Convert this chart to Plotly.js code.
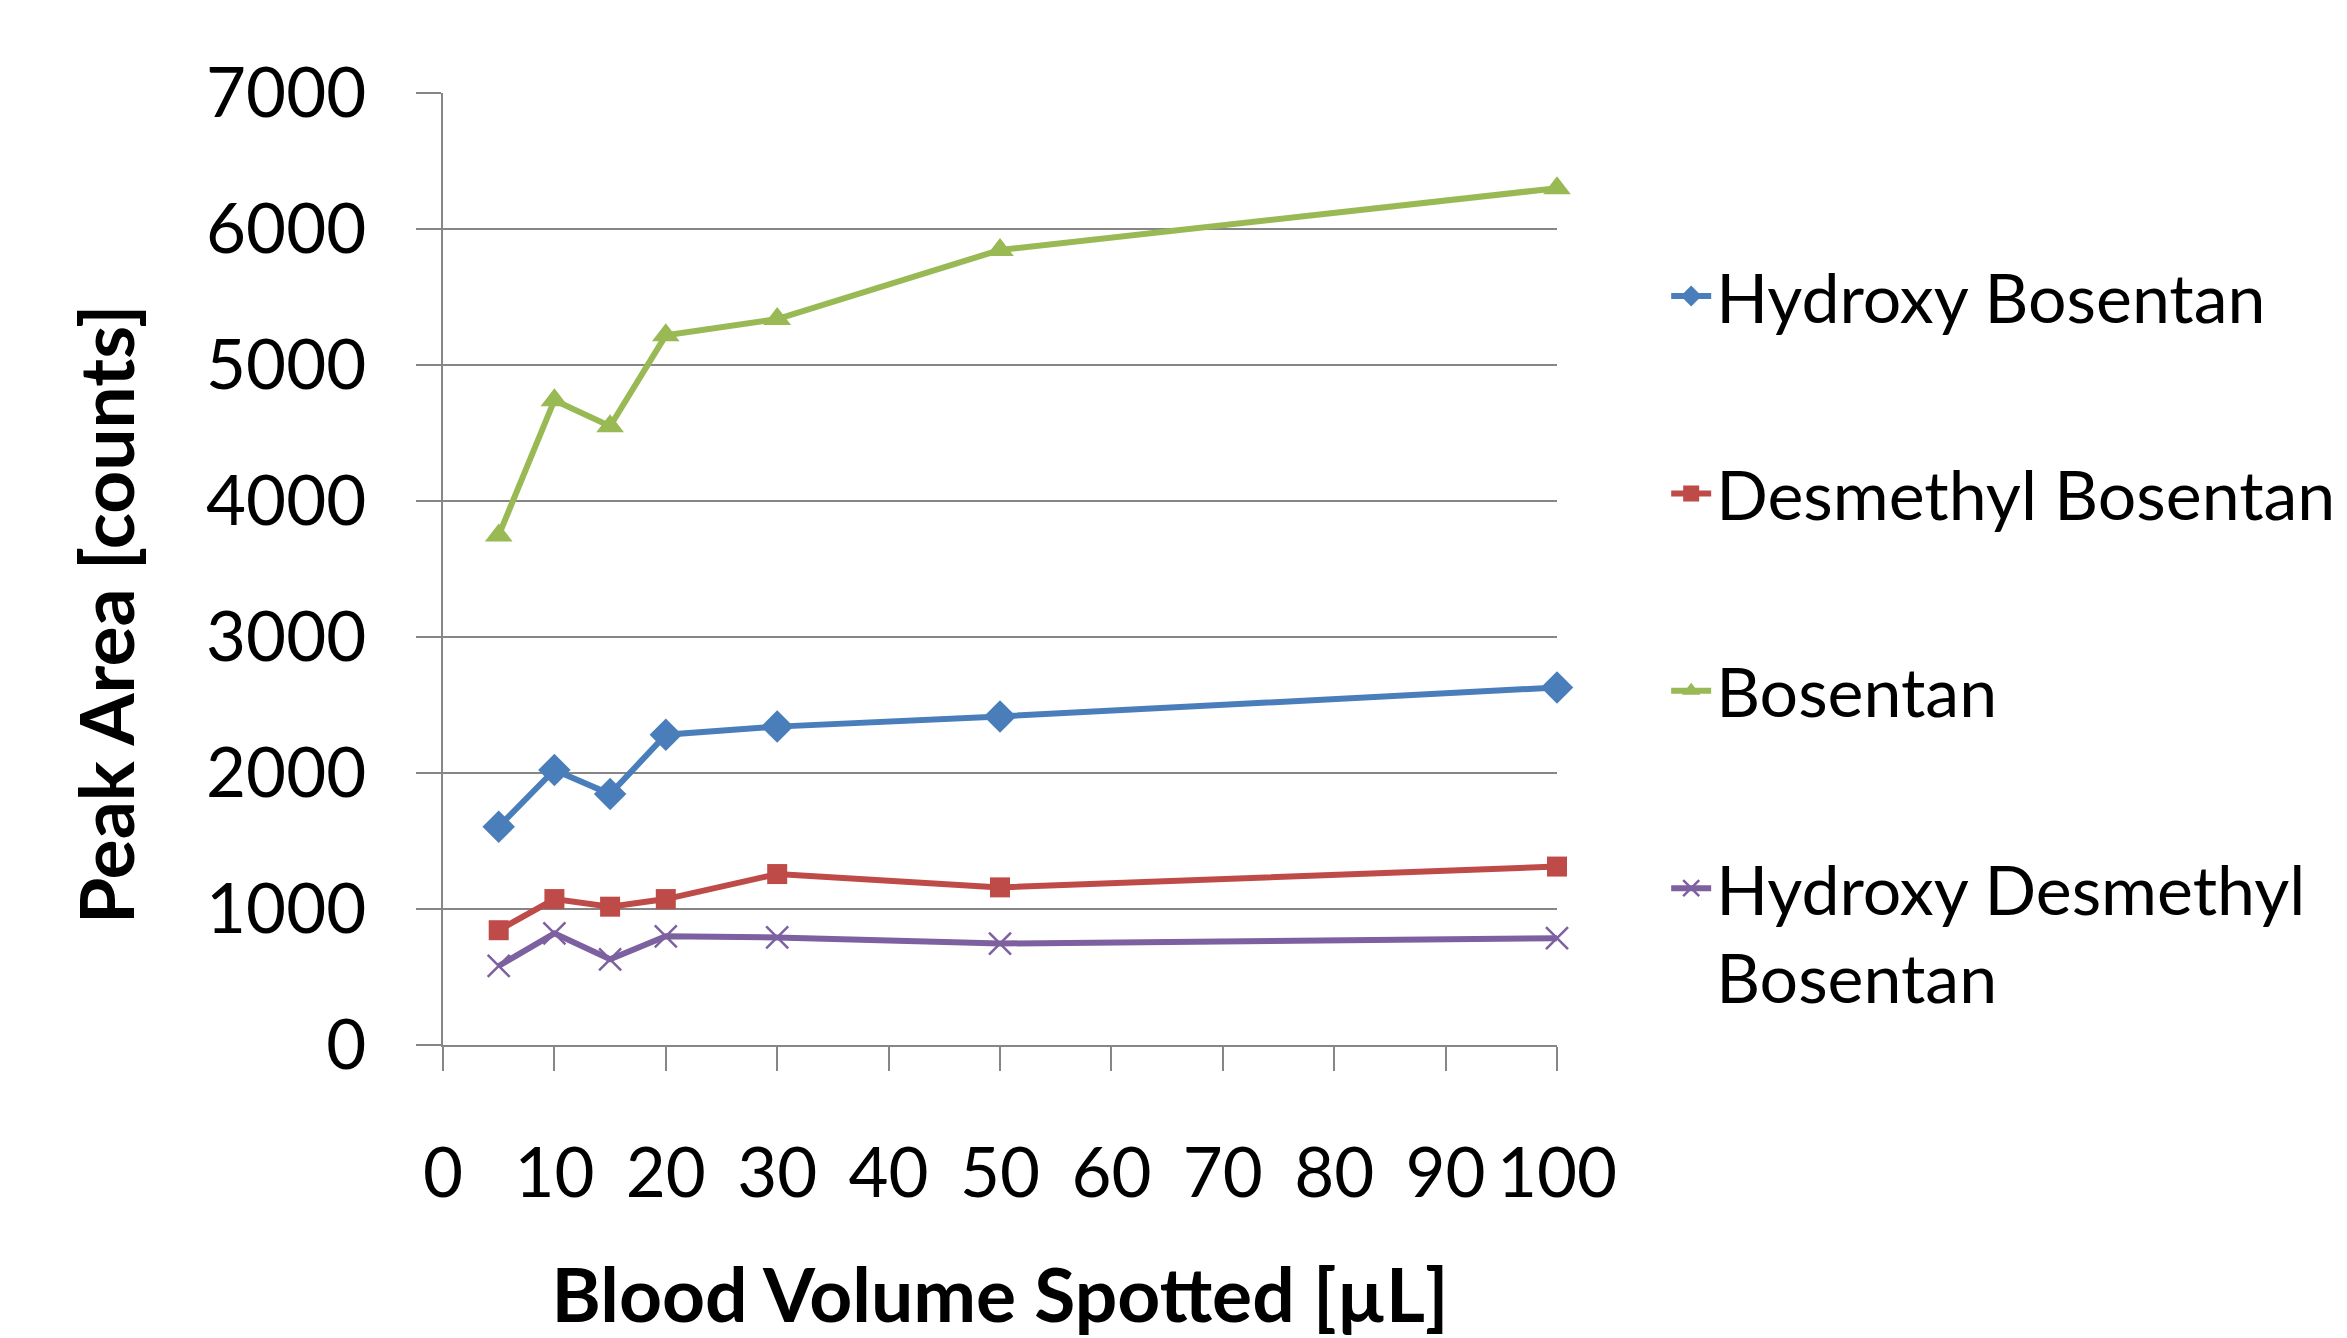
<!DOCTYPE html>
<html>
<head>
<meta charset="utf-8">
<script src="https://cdn.plot.ly/plotly-3.0.1.min.js"></script>
<style>html,body{margin:0;padding:0;background:#fff;}#chart{width:2347px;height:1338px;}</style>
</head>
<body>
<div id="chart"></div>
<script>
const bloodVolume = [5, 10, 15, 20, 30, 50, 100];
const hydroxyBosentan = [1605, 2022, 1845, 2281, 2341, 2416, 2629];
const desmethylBosentan = [844, 1073, 1017, 1073, 1257, 1159, 1312];
const bosentan = [3747, 4741, 4550, 5218, 5338, 5846, 6300];
const hydroxyDesmethylBosentan = [581, 821, 630, 799, 791, 746, 785];
const seriesNames = ["Hydroxy Bosentan", "Desmethyl Bosentan", "Bosentan", "Hydroxy Desmethyl<br>Bosentan"];
const xTickValues = [0, 10, 20, 30, 40, 50, 60, 70, 80, 90, 100];
const yTickValues = [0, 1000, 2000, 3000, 4000, 5000, 6000, 7000];
const xTitle = "Blood Volume Spotted [µL]";
const yTitle = "Peak Area [counts]";

const FONT = "Lato, 'Open Sans', sans-serif";
const AXIS_GRAY = "#868686";

function mk(name, y, color, symbol, size, group, lw) {
  return {
    type: "scatter", mode: "lines+markers", name: name,
    x: bloodVolume, y: y, legendgroup: group, cliponaxis: false,
    line: {color: color, width: 6},
    marker: {color: color, symbol: symbol, size: size, line: {width: lw || 0, color: color}}
  };
}

const traces = [
  mk(seriesNames[0], hydroxyBosentan, "#4A7EBB", "diamond", 25, "g1"),
  mk(seriesNames[1], desmethylBosentan, "#BE4B48", "square", 20, "g2"),
  mk(seriesNames[2], bosentan, "#98B954", "triangle-up", 24, "g3"),
  mk(seriesNames[3], hydroxyDesmethylBosentan, "#7D60A0", "x-thin-open", 22, "g4", 2.5)
];

const layout = {
  width: 2347, height: 1338,
  margin: {l: 443, r: 790, t: 93, b: 293, pad: 0, autoexpand: false},
  paper_bgcolor: "#ffffff", plot_bgcolor: "#ffffff",
  font: {family: FONT, color: "#000000", size: 68},
  showlegend: true,
  legend: {
    x: 1.098, xanchor: "left", y: 0.84, yanchor: "top",
    traceorder: "grouped", tracegroupgap: 106, valign: "top",
    font: {family: FONT, size: 68, color: "#000000"},
    bgcolor: "rgba(0,0,0,0)", itemwidth: 40
  },
  xaxis: {
    range: [0, 100], tickmode: "array", tickvals: xTickValues,
    ticktext: xTickValues.map(String),
    ticks: "outside", ticklen: 24, tickwidth: 2, tickcolor: AXIS_GRAY,
    showline: true, linecolor: AXIS_GRAY, linewidth: 2,
    showgrid: false, zeroline: false,
    tickfont: {family: FONT, size: 69, color: "#000000"},
    ticklabelstandoff: 43,
    title: {text: xTitle, font: {family: FONT, size: 75, weight: "bold", color: "#000000"}, standoff: 60},
    automargin: false, fixedrange: true
  },
  yaxis: {
    range: [0, 7000], tickmode: "array", tickvals: yTickValues,
    ticks: "outside", ticklen: 25, tickwidth: 2, tickcolor: AXIS_GRAY,
    showline: true, linecolor: AXIS_GRAY, linewidth: 2,
    showgrid: true, gridcolor: AXIS_GRAY, gridwidth: 2, zeroline: false,
    tickfont: {family: FONT, size: 69, color: "#000000"},
    ticklabelstandoff: 36,
    automargin: false, fixedrange: true
  },
  annotations: [{
    text: yTitle, textangle: -90, showarrow: false,
    xref: "paper", yref: "paper", x: -0.3034, y: 0.4527,
    xanchor: "center", yanchor: "middle",
    font: {family: FONT, size: 75, weight: "bold", color: "#000000"}
  }]
};

Plotly.newPlot("chart", traces, layout, {displayModeBar: false, staticPlot: true});
</script>
</body>
</html>
